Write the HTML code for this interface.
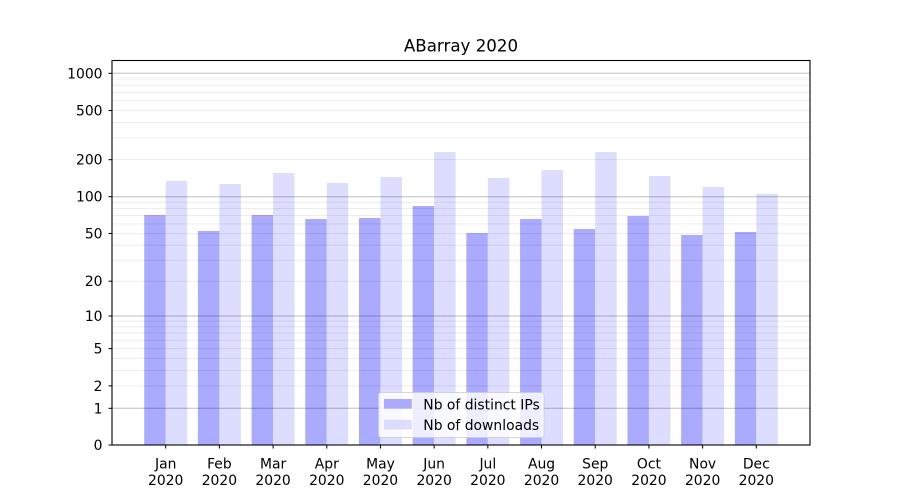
<!DOCTYPE html>
<html><head><meta charset="utf-8"><style>
html,body{margin:0;padding:0;background:#fff;}
svg{display:block;font-family:"DejaVu Sans","Liberation Sans",sans-serif;}
</style></head><body>
<svg width="900" height="500" viewBox="0 0 900 500" xmlns="http://www.w3.org/2000/svg">
<rect x="0" y="0" width="900" height="500" fill="#fff"/>
<!-- bars -->
<g>
<rect x="144.21" y="215" width="21.48" height="230" fill="#aaaaff"/><rect x="165.69" y="181" width="21.48" height="264" fill="#ddddff"/>
<rect x="197.90" y="231" width="21.48" height="214" fill="#aaaaff"/><rect x="219.38" y="184" width="21.48" height="261" fill="#ddddff"/>
<rect x="251.60" y="215" width="21.48" height="230" fill="#aaaaff"/><rect x="273.08" y="173" width="21.48" height="272" fill="#ddddff"/>
<rect x="305.29" y="219" width="21.48" height="226" fill="#aaaaff"/><rect x="326.77" y="183" width="21.48" height="262" fill="#ddddff"/>
<rect x="358.98" y="218" width="21.48" height="227" fill="#aaaaff"/><rect x="380.46" y="177" width="21.48" height="268" fill="#ddddff"/>
<rect x="412.67" y="206" width="21.48" height="239" fill="#aaaaff"/><rect x="434.15" y="152" width="21.48" height="293" fill="#ddddff"/>
<rect x="466.37" y="233" width="21.48" height="212" fill="#aaaaff"/><rect x="487.85" y="178" width="21.48" height="267" fill="#ddddff"/>
<rect x="520.06" y="219" width="21.48" height="226" fill="#aaaaff"/><rect x="541.54" y="170" width="21.48" height="275" fill="#ddddff"/>
<rect x="573.75" y="229" width="21.48" height="216" fill="#aaaaff"/><rect x="595.23" y="152" width="21.48" height="293" fill="#ddddff"/>
<rect x="627.44" y="216" width="21.48" height="229" fill="#aaaaff"/><rect x="648.92" y="176" width="21.48" height="269" fill="#ddddff"/>
<rect x="681.14" y="235" width="21.48" height="210" fill="#aaaaff"/><rect x="702.62" y="187" width="21.48" height="258" fill="#ddddff"/>
<rect x="734.83" y="232" width="21.48" height="213" fill="#aaaaff"/><rect x="756.31" y="194" width="21.48" height="251" fill="#ddddff"/>
</g>
<!-- minor grid -->
<g stroke="#000" stroke-opacity="0.075" stroke-width="1">
<line x1="112" x2="810" y1="385.89" y2="385.89"/>
<line x1="112" x2="810" y1="370.42" y2="370.42"/>
<line x1="112" x2="810" y1="358.41" y2="358.41"/>
<line x1="112" x2="810" y1="348.60" y2="348.60"/>
<line x1="112" x2="810" y1="340.31" y2="340.31"/>
<line x1="112" x2="810" y1="333.12" y2="333.12"/>
<line x1="112" x2="810" y1="326.79" y2="326.79"/>
<line x1="112" x2="810" y1="321.12" y2="321.12"/>
<line x1="112" x2="810" y1="281.20" y2="281.20"/>
<line x1="112" x2="810" y1="260.25" y2="260.25"/>
<line x1="112" x2="810" y1="245.21" y2="245.21"/>
<line x1="112" x2="810" y1="233.46" y2="233.46"/>
<line x1="112" x2="810" y1="223.83" y2="223.83"/>
<line x1="112" x2="810" y1="215.66" y2="215.66"/>
<line x1="112" x2="810" y1="208.57" y2="208.57"/>
<line x1="112" x2="810" y1="202.31" y2="202.31"/>
<line x1="112" x2="810" y1="159.68" y2="159.68"/>
<line x1="112" x2="810" y1="137.95" y2="137.95"/>
<line x1="112" x2="810" y1="122.53" y2="122.53"/>
<line x1="112" x2="810" y1="110.55" y2="110.55"/>
<line x1="112" x2="810" y1="100.75" y2="100.75"/>
<line x1="112" x2="810" y1="92.47" y2="92.47"/>
<line x1="112" x2="810" y1="85.30" y2="85.30"/>
<line x1="112" x2="810" y1="78.97" y2="78.97"/>
</g>
<!-- major grid -->
<g stroke="#000" stroke-opacity="0.25" stroke-width="1">
<line x1="112" x2="810" y1="408.3" y2="408.3"/>
<line x1="112" x2="810" y1="316.0" y2="316.0"/>
<line x1="112" x2="810" y1="196.7" y2="196.7"/>
<line x1="112" x2="810" y1="73.3" y2="73.3"/>
</g>
<!-- spines -->
<rect x="112" y="60.5" width="698" height="384.5" fill="none" stroke="#000" stroke-width="1.1"/>
<!-- y ticks -->
<g stroke="#000" stroke-width="1">
<line x1="108.5" x2="112" y1="445" y2="445"/>
<line x1="108.5" x2="112" y1="408.3" y2="408.3"/>
<line x1="108.5" x2="112" y1="385.89" y2="385.89"/>
<line x1="108.5" x2="112" y1="348.6" y2="348.6"/>
<line x1="108.5" x2="112" y1="316.0" y2="316.0"/>
<line x1="108.5" x2="112" y1="281.2" y2="281.2"/>
<line x1="108.5" x2="112" y1="233.46" y2="233.46"/>
<line x1="108.5" x2="112" y1="196.7" y2="196.7"/>
<line x1="108.5" x2="112" y1="159.68" y2="159.68"/>
<line x1="108.5" x2="112" y1="110.55" y2="110.55"/>
<line x1="108.5" x2="112" y1="73.3" y2="73.3"/>
</g>
<g font-size="13.9" fill="#000" text-anchor="end">
<text x="102.5" y="450">0</text>
<text x="102.5" y="413.3">1</text>
<text x="102.5" y="390.9">2</text>
<text x="102.5" y="353.6">5</text>
<text x="102.5" y="321">10</text>
<text x="102.5" y="286.2">20</text>
<text x="102.5" y="238.5">50</text>
<text x="102.5" y="201.7">100</text>
<text x="102.5" y="164.7">200</text>
<text x="102.5" y="115.6">500</text>
<text x="102.5" y="78.3">1000</text>
</g>
<!-- x ticks -->
<g stroke="#000" stroke-width="1">
<line x1="165.69" x2="165.69" y1="445" y2="448.5"/>
<line x1="219.38" x2="219.38" y1="445" y2="448.5"/>
<line x1="273.08" x2="273.08" y1="445" y2="448.5"/>
<line x1="326.77" x2="326.77" y1="445" y2="448.5"/>
<line x1="380.46" x2="380.46" y1="445" y2="448.5"/>
<line x1="434.15" x2="434.15" y1="445" y2="448.5"/>
<line x1="487.85" x2="487.85" y1="445" y2="448.5"/>
<line x1="541.54" x2="541.54" y1="445" y2="448.5"/>
<line x1="595.23" x2="595.23" y1="445" y2="448.5"/>
<line x1="648.92" x2="648.92" y1="445" y2="448.5"/>
<line x1="702.62" x2="702.62" y1="445" y2="448.5"/>
<line x1="756.31" x2="756.31" y1="445" y2="448.5"/>
</g>
<g font-size="13.9" fill="#000" text-anchor="middle">
<text x="165.69" y="468.5">Jan</text><text x="165.69" y="485">2020</text>
<text x="219.38" y="468.5">Feb</text><text x="219.38" y="485">2020</text>
<text x="273.08" y="468.5">Mar</text><text x="273.08" y="485">2020</text>
<text x="326.77" y="468.5">Apr</text><text x="326.77" y="485">2020</text>
<text x="380.46" y="468.5">May</text><text x="380.46" y="485">2020</text>
<text x="434.15" y="468.5">Jun</text><text x="434.15" y="485">2020</text>
<text x="487.85" y="468.5">Jul</text><text x="487.85" y="485">2020</text>
<text x="541.54" y="468.5">Aug</text><text x="541.54" y="485">2020</text>
<text x="595.23" y="468.5">Sep</text><text x="595.23" y="485">2020</text>
<text x="648.92" y="468.5">Oct</text><text x="648.92" y="485">2020</text>
<text x="702.62" y="468.5">Nov</text><text x="702.62" y="485">2020</text>
<text x="756.31" y="468.5">Dec</text><text x="756.31" y="485">2020</text>
</g>
<!-- title -->
<text x="461" y="51.7" font-size="16.67" text-anchor="middle" fill="#000">ABarray 2020</text>
<!-- legend -->
<rect x="378.5" y="392.5" width="165.5" height="45" rx="2.5" ry="2.5" fill="#fff" fill-opacity="0.8" stroke="#cccccc" stroke-opacity="0.8" stroke-width="1"/>
<rect x="384" y="399" width="27.8" height="9.7" fill="#aaaaff"/>
<rect x="384" y="419.8" width="27.8" height="9.7" fill="#ddddff"/>
<g font-size="13.9" fill="#000">
<text x="423.3" y="409.3">Nb of distinct IPs</text>
<text x="423.3" y="430">Nb of downloads</text>
</g>
</svg>
</body></html>
